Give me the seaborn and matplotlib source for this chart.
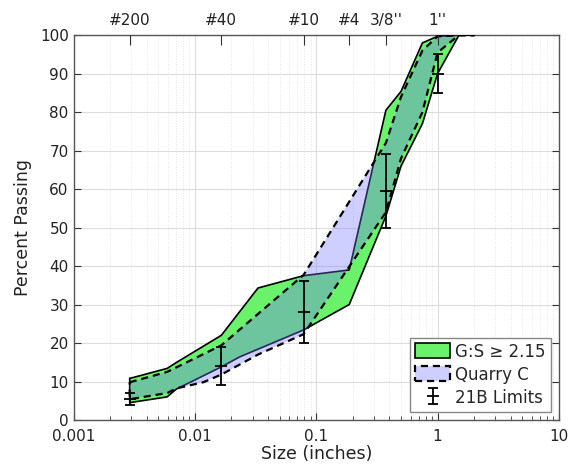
import numpy as np
import pandas as pd
import matplotlib
matplotlib.use("Agg")
import matplotlib.pyplot as plt
from matplotlib.patches import Patch
from matplotlib.ticker import LogLocator, NullFormatter, FixedLocator
import seaborn as sns

# Sieve openings (inches)
SIEVE = {"#200": 0.0029, "#100": 0.0059, "#80": 0.0070, "#50": 0.0117,
         "#40": 0.0165, "#30": 0.0234, "#20": 0.0331, "#10": 0.0787,
         "#4": 0.187, "3/8": 0.375, "1/2": 0.5, "3/4": 0.75,
         "1": 1.0, "1.5": 1.5, "2": 2.0}

# G:S >= 2.15 envelope (percent passing)
gs_upper_sieves = ["#200", "#100", "#80", "#40", "#20", "#10", "#4",
                   "3/8", "1/2", "3/4", "1", "1.5", "2"]
gs_upper = [10.8, 13.4, 14.9, 22.0, 34.3, 37.5, 39.0,
            80.5, 85.4, 98.0, 99.7, 100.0, 100.0]
gs_lower_sieves = ["#200", "#100", "#80", "#40", "#30", "#10", "#4",
                   "3/8", "1/2", "3/4", "1", "1.5", "2"]
gs_lower = [4.5, 6.0, 8.0, 13.8, 16.4, 23.4, 30.0,
            53.0, 66.0, 77.0, 90.0, 100.0, 100.0]

# Quarry C envelope (percent passing)
qc_upper_sieves = ["#200", "#100", "#40", "#10", "3/8", "1/2", "3/4",
                   "1", "1.5", "2"]
qc_upper = [9.8, 12.5, 19.4, 37.7, 72.0, 84.0, 96.0, 99.7, 100.0, 100.0]
qc_lower_sieves = ["#200", "#100", "#80", "#50", "#40", "#20", "#10",
                   "3/8", "1/2", "3/4", "1", "1.5", "2"]
qc_lower = [5.4, 7.0, 8.2, 9.8, 11.8, 17.0, 22.3,
            54.0, 68.0, 80.0, 95.5, 100.0, 100.0]

# VDOT 21B gradation limits
spec_sieves = ["#200", "#40", "#10", "3/8", "1"]
spec_low = [4, 9, 20, 50, 85]
spec_high = [7, 19, 36, 69, 95]

# Top-axis sieve labels
top_labels = ["#200", "#40", "#10", "#4", "3/8''", "1''"]
top_sieves = ["#200", "#40", "#10", "#4", "3/8", "1"]


def outline(up_s, up_v, lo_s, lo_v):
    xs = [SIEVE[s] for s in up_s] + [SIEVE[s] for s in lo_s[::-1]]
    ys = list(up_v) + list(lo_v[::-1])
    xs.append(xs[0])
    ys.append(ys[0])
    return pd.DataFrame({"size": xs, "passing": ys,
                         "order": np.arange(len(xs))})


sns.set_style("whitegrid")
plt.rcParams["font.family"] = ["DejaVu Sans"]

fig = plt.figure(figsize=(5.75, 4.69), dpi=100)
ax = fig.add_axes([0.128, 0.1045, 0.844, 0.8205])

gs_df = outline(gs_upper_sieves, gs_upper, gs_lower_sieves, gs_lower)
qc_df = outline(qc_upper_sieves, qc_upper, qc_lower_sieves, qc_lower)

green = (0.42, 0.95, 0.42)
lav = (0.45, 0.45, 1.0)
lav_alpha = 0.35

ax.fill(gs_df["size"], gs_df["passing"], color=green, lw=0, zorder=2)
sns.lineplot(data=gs_df, x="size", y="passing", sort=False, estimator=None,
             color="black", lw=1.2, ax=ax, zorder=3)
ax.fill(qc_df["size"], qc_df["passing"], color=lav, alpha=lav_alpha, lw=0,
        zorder=4)
sns.lineplot(data=qc_df, x="size", y="passing", sort=False, estimator=None,
             color="black", lw=1.6, ax=ax, zorder=5,
             linestyle=(0, (3.2, 2.2)))

sx = np.array([SIEVE[s] for s in spec_sieves])
lo = np.array(spec_low, dtype=float)
hi = np.array(spec_high, dtype=float)
mid = (lo + hi) / 2
eb = ax.errorbar(sx, mid, yerr=[mid - lo, hi - mid], fmt="_", color="black",
                 ms=8, mew=1.3, elinewidth=1.3, capsize=3.6, capthick=1.3,
                 zorder=6)

ax.set_xscale("log")
ax.set_xlim(0.001, 10)
ax.set_ylim(0, 100)
ax.set_yticks(np.arange(0, 101, 10))
ax.set_xticks([0.001, 0.01, 0.1, 1, 10])
ax.set_xticklabels(["0.001", "0.01", "0.1", "1", "10"])
ax.xaxis.set_minor_locator(LogLocator(base=10, subs=np.arange(2, 10)))
ax.xaxis.set_minor_formatter(NullFormatter())

ax.grid(which="major", color="#dcdcdc", lw=0.8, ls="-")
ax.grid(which="minor", axis="x", color="#e6e6e6", lw=0.7, ls=":")
ax.set_axisbelow(True)

for sp in ax.spines.values():
    sp.set_color("#555555")
    sp.set_linewidth(1.0)
ax.tick_params(which="both", direction="in", colors="#333333",
               labelsize=11, top=False, right=True, bottom=True, left=True,
               labelcolor="#222222")
ax.tick_params(which="major", length=5)
ax.tick_params(which="minor", length=3)
ax.tick_params(axis="x", which="major", pad=6.5)

ax.set_xlabel("Size (inches)", fontsize=12.5, color="#222222", labelpad=1)
ax.set_ylabel("Percent Passing", fontsize=12.5, color="#222222", labelpad=6)

top = ax.twiny()
top.set_xscale("log")
top.set_xlim(ax.get_xlim())
top.xaxis.set_major_locator(FixedLocator([SIEVE[s] for s in top_sieves]))
top.set_xticklabels(top_labels)
top.xaxis.set_minor_locator(FixedLocator([]))
top.tick_params(which="both", direction="in", length=7, labelsize=11,
                colors="#333333", labelcolor="#222222", pad=5)
top.grid(False)
for sp in top.spines.values():
    sp.set_visible(False)

handles = [Patch(facecolor=green, edgecolor="black", lw=1.2),
           Patch(facecolor=(0.807, 0.807, 1.0), edgecolor="black", lw=1.6,
                 linestyle=(0, (3.2, 2.2))),
           eb]
leg = ax.legend(handles, ["G:S \u2265 2.15", "Quarry C", "21B Limits"],
                loc="lower right", fontsize=12, frameon=True, fancybox=False,
                framealpha=1, edgecolor="#888888", handlelength=2.1,
                handleheight=1.0, labelspacing=0.3, handletextpad=0.3,
                borderpad=0.3, borderaxespad=0.5)
leg.get_frame().set_linewidth(1.0)
leg.set_zorder(10)

fig.savefig("out.png", dpi=100)
